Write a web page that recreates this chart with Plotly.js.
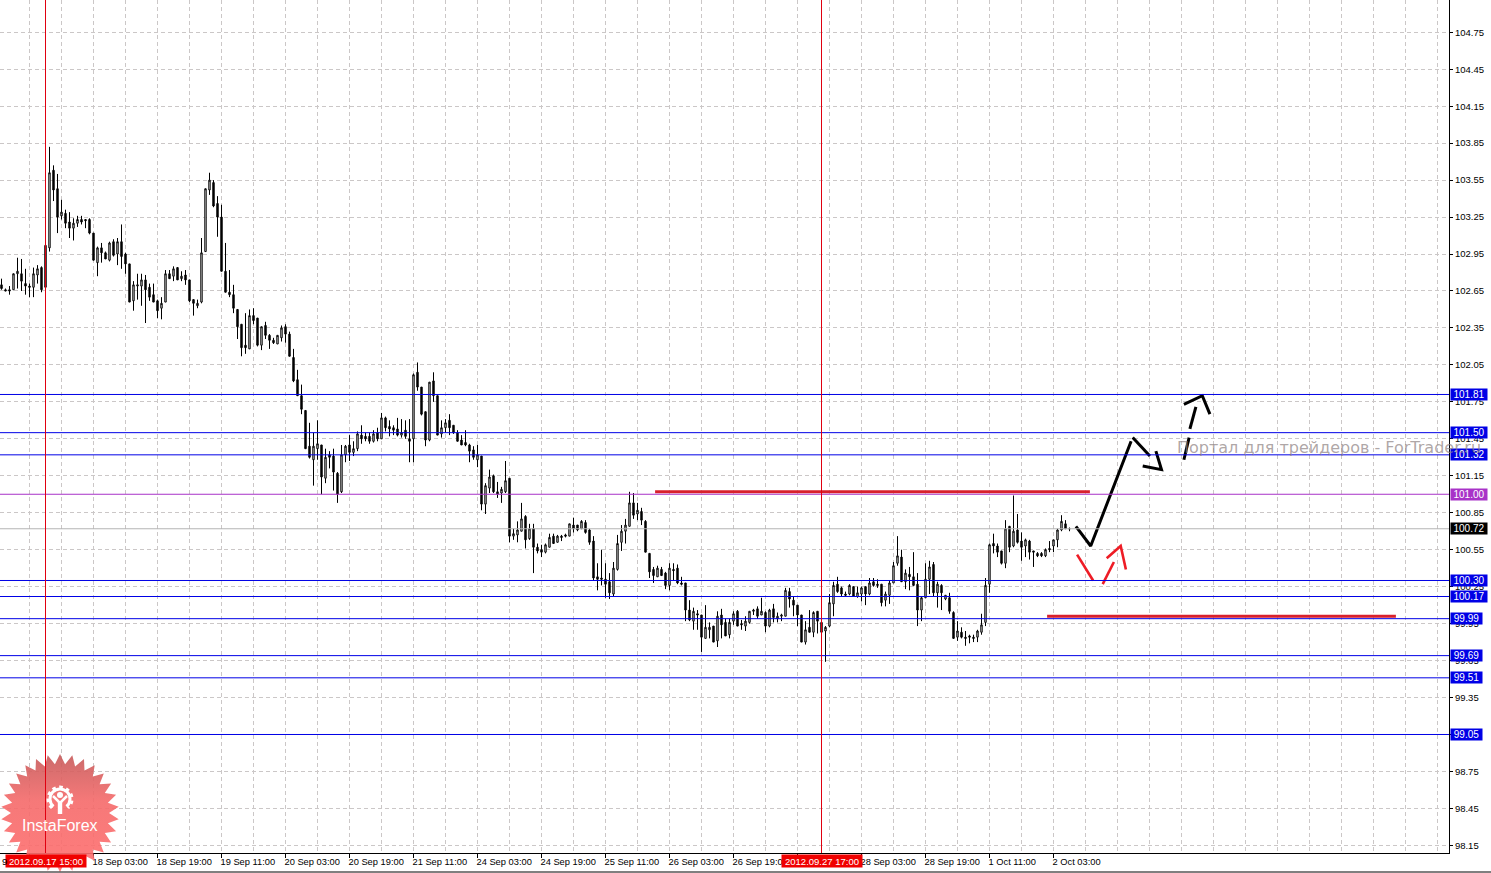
<!DOCTYPE html>
<html>
<head>
<meta charset="utf-8">
<script src="https://cdn.plot.ly/plotly-3.0.1.min.js"></script>
<style>html,body{margin:0;padding:0;background:#fff;overflow:hidden}#c{width:1491px;height:873px}</style>
</head>
<body>
<div id="c"></div>
<script>
const open = [
102.70,102.66,102.66,102.66,102.79,102.79,102.71,102.69,102.68,102.78,
102.84,103.02,103.00,103.63,103.48,103.26,103.28,103.21,103.16,103.20,
103.23,103.23,103.23,103.12,102.88,103.00,102.96,102.90,103.05,102.95,
103.05,102.95,102.87,102.57,102.69,102.69,102.74,102.68,102.62,102.57,
102.51,102.56,102.79,102.77,102.84,102.75,102.78,102.74,102.58,102.53,
102.56,102.97,103.47,103.53,103.36,103.25,102.81,102.64,102.62,102.50,
102.38,102.21,102.18,102.45,102.43,102.21,102.37,102.29,102.25,102.22,
102.27,102.36,102.30,102.11,101.93,101.80,101.68,101.39,101.28,101.37,
101.40,101.13,101.32,101.31,101.17,101.02,101.32,101.40,101.34,101.37,
101.48,101.47,101.47,101.43,101.50,101.45,101.62,101.55,101.54,101.53,
101.48,101.52,101.45,101.45,101.99,101.87,101.67,101.44,101.92,101.80,
101.49,101.54,101.60,101.56,101.50,101.44,101.42,101.40,101.36,101.28,
101.31,100.92,101.05,101.15,101.02,101.01,101.02,101.13,100.66,100.67,
100.70,100.82,100.64,100.72,100.57,100.55,100.53,100.57,100.66,100.61,
100.66,100.67,100.66,100.75,100.75,100.72,100.77,100.71,100.62,100.33,
100.32,100.31,100.29,100.19,100.39,100.61,100.70,100.74,100.93,100.84,
100.86,100.78,100.52,100.39,100.33,100.39,100.36,100.26,100.39,100.40,
100.28,100.28,100.06,99.97,100.03,100.02,99.83,99.90,99.93,99.81,
100.02,99.96,99.86,99.97,100.05,99.95,99.93,99.96,100.05,100.07,
100.02,100.04,99.93,100.07,99.99,100.01,100.01,100.21,100.14,100.10,
100.02,99.80,99.92,99.88,100.05,99.96,99.89,99.93,100.11,100.27,
100.24,100.19,100.19,100.25,100.17,100.19,100.25,100.19,100.29,100.27,
100.27,100.14,100.18,100.28,100.44,100.49,100.29,100.35,100.33,100.27,
100.06,100.16,100.31,100.43,100.20,100.26,100.15,100.16,100.04,99.84,
99.88,99.84,99.85,99.84,99.84,99.88,99.96,100.27,100.60,100.58,
100.54,100.44,100.74,100.58,100.71,100.62,100.58,100.62,100.54,100.52,
100.52,100.50,100.56,100.58,100.63,100.71,100.76,100.72];
const high = [
102.75,102.67,102.69,102.79,102.92,102.91,102.83,102.71,102.84,102.86,
102.85,103.02,103.82,103.67,103.60,103.39,103.31,103.29,103.24,103.26,
103.26,103.23,103.24,103.12,103.01,103.04,102.97,103.05,103.07,103.08,
103.19,102.96,102.87,102.73,102.79,102.79,102.78,102.71,102.71,102.58,
102.60,102.82,102.82,102.85,102.84,102.81,102.82,102.74,102.58,102.58,
103.08,103.48,103.61,103.55,103.42,103.35,103.04,102.82,102.70,102.50,
102.38,102.47,102.50,102.51,102.43,102.36,102.40,102.30,102.27,102.29,
102.37,102.38,102.32,102.18,102.01,101.89,101.68,101.58,101.50,101.60,
101.40,101.37,101.35,101.37,101.18,101.40,101.40,101.48,101.43,101.51,
101.56,101.50,101.50,101.52,101.54,101.66,101.63,101.60,101.56,101.62,
101.61,101.60,101.61,101.98,102.07,101.87,101.67,101.91,101.99,101.80,
101.60,101.61,101.65,101.56,101.52,101.48,101.52,101.41,101.39,101.40,
101.31,101.09,101.20,101.16,101.10,101.06,101.27,101.13,100.72,100.78,
100.93,100.83,100.76,100.76,100.60,100.59,100.60,100.68,100.68,100.67,
100.67,100.68,100.76,100.81,100.75,100.79,100.79,100.72,100.66,100.44,
100.55,100.44,100.36,100.45,100.67,100.75,100.80,101.02,101.01,100.93,
100.89,100.79,100.52,100.41,100.42,100.41,100.37,100.44,100.44,100.43,
100.33,100.28,100.14,100.08,100.06,100.02,100.10,99.96,99.93,100.05,
100.07,99.99,99.99,100.05,100.06,99.98,100.01,100.05,100.07,100.09,
100.16,100.05,100.07,100.11,100.04,100.03,100.24,100.24,100.17,100.10,
100.02,99.97,100.06,100.05,100.05,99.96,99.93,100.19,100.29,100.33,
100.25,100.21,100.27,100.25,100.25,100.25,100.25,100.32,100.32,100.31,
100.27,100.21,100.30,100.45,100.66,100.55,100.39,100.41,100.53,100.36,
100.17,100.44,100.46,100.45,100.29,100.27,100.18,100.20,100.05,99.97,
99.92,99.89,99.86,99.86,99.90,100.03,100.32,100.60,100.68,100.60,
100.54,100.79,100.74,100.99,100.84,100.69,100.64,100.63,100.54,100.53,
100.53,100.56,100.62,100.63,100.72,100.83,100.79,100.73];
const low = [
102.66,102.65,102.62,102.66,102.67,102.65,102.62,102.60,102.60,102.71,
102.64,102.68,102.97,103.38,103.12,103.23,103.16,103.08,103.06,103.17,
103.19,103.16,103.11,102.90,102.77,102.88,102.91,102.89,102.93,102.86,
102.83,102.79,102.56,102.49,102.58,102.53,102.39,102.57,102.56,102.43,
102.42,102.56,102.75,102.73,102.74,102.73,102.70,102.56,102.45,102.51,
102.55,102.97,103.43,103.33,103.09,102.81,102.64,102.60,102.47,102.26,
102.12,102.14,102.18,102.38,102.20,102.17,102.26,102.18,102.22,102.22,
102.24,102.23,102.12,101.91,101.80,101.65,101.37,101.29,101.07,101.28,
101.00,101.09,101.21,101.03,100.93,101.01,101.26,101.27,101.31,101.35,
101.41,101.43,101.41,101.42,101.43,101.45,101.51,101.47,101.48,101.47,
101.46,101.45,101.26,101.26,101.84,101.64,101.39,101.43,101.75,101.48,
101.46,101.50,101.48,101.49,101.43,101.40,101.39,101.26,101.28,101.22,
100.87,100.84,101.01,101.01,100.97,100.93,101.01,100.61,100.63,100.61,
100.70,100.56,100.63,100.36,100.52,100.49,100.52,100.57,100.60,100.61,
100.62,100.65,100.66,100.69,100.70,100.72,100.68,100.59,100.30,100.22,
100.26,100.16,100.15,100.17,100.38,100.54,100.60,100.74,100.80,100.79,
100.75,100.53,100.32,100.28,100.33,100.34,100.23,100.22,100.30,100.27,
100.26,99.97,99.97,99.90,99.90,99.72,99.83,99.83,99.80,99.76,
99.83,99.85,99.83,99.94,99.93,99.90,99.89,99.95,100.02,99.99,
100.02,99.88,99.92,99.96,99.96,99.97,100.01,100.08,100.01,99.93,
99.80,99.78,99.88,99.84,99.87,99.88,99.64,99.92,100.01,100.20,
100.17,100.17,100.18,100.17,100.16,100.13,100.10,100.18,100.25,100.24,
100.09,100.09,100.11,100.28,100.42,100.29,100.23,100.22,100.26,99.93,
99.97,100.16,100.19,100.17,100.08,100.06,100.14,100.03,99.83,99.81,
99.83,99.77,99.79,99.80,99.80,99.86,99.93,100.20,100.52,100.49,
100.43,100.40,100.53,100.57,100.60,100.46,100.49,100.47,100.41,100.49,
100.49,100.49,100.53,100.53,100.57,100.70,100.72,100.70];
const close = [
102.67,102.65,102.65,102.79,102.81,102.73,102.69,102.68,102.79,102.83,
102.66,102.68,103.61,103.47,103.25,103.29,103.20,103.16,103.20,103.23,
103.21,103.22,103.12,102.90,103.00,102.96,102.91,103.04,102.94,103.05,
102.93,102.87,102.56,102.70,102.70,102.74,102.66,102.60,102.56,102.49,
102.55,102.79,102.75,102.83,102.74,102.77,102.74,102.57,102.55,102.55,
102.96,103.48,103.55,103.34,103.25,102.81,102.64,102.62,102.51,102.36,
102.19,102.19,102.45,102.41,102.21,102.36,102.29,102.25,102.23,102.29,
102.35,102.30,102.12,101.92,101.80,101.69,101.37,101.30,101.39,101.41,
101.14,101.30,101.30,101.18,101.00,101.32,101.39,101.34,101.37,101.49,
101.45,101.45,101.43,101.49,101.45,101.62,101.54,101.53,101.52,101.48,
101.50,101.47,101.43,101.97,101.87,101.65,101.44,101.91,101.80,101.48,
101.54,101.58,101.54,101.50,101.43,101.40,101.40,101.35,101.30,101.32,
100.92,101.07,101.14,101.02,101.00,101.04,101.11,100.66,100.68,100.71,
100.80,100.63,100.72,100.57,100.54,100.53,100.59,100.65,100.60,100.66,
100.65,100.66,100.76,100.72,100.71,100.78,100.69,100.61,100.32,100.31,
100.31,100.27,100.20,100.40,100.60,100.70,100.75,100.93,100.83,100.87,
100.79,100.53,100.37,100.34,100.40,100.34,100.26,100.40,100.38,100.28,
100.27,100.06,99.98,100.05,100.02,99.84,99.92,99.92,99.80,100.01,
99.94,99.85,99.96,100.03,99.93,99.94,99.97,100.05,100.06,100.01,
100.05,99.93,100.06,100.00,100.01,100.02,100.22,100.15,100.10,100.02,
99.80,99.90,99.88,100.04,99.97,99.88,99.92,100.12,100.26,100.21,
100.19,100.18,100.26,100.17,100.20,100.24,100.19,100.28,100.26,100.26,
100.12,100.19,100.28,100.42,100.50,100.29,100.36,100.33,100.26,100.06,
100.16,100.31,100.41,100.20,100.27,100.20,100.18,100.05,99.83,99.89,
99.84,99.83,99.84,99.83,99.89,99.94,100.26,100.59,100.58,100.53,
100.44,100.72,100.57,100.70,100.61,100.57,100.63,100.53,100.53,100.50,
100.50,100.55,100.55,100.63,100.71,100.78,100.72,100.72];

const barIndex = open.map((_, i) => i);

const priceTicks = [98.15,98.45,98.75,99.05,99.35,99.65,99.95,100.25,100.55,100.85,101.15,101.45,101.75,102.05,102.35,102.65,102.95,103.25,103.55,103.85,104.15,104.45,104.75];
const timeTickBars = [7,23,39,55,71,87,103,119,135,151,167,183,199,215,231,247,263];
const timeTickLabels = ['17 Sep 11:00','18 Sep 03:00','18 Sep 19:00','19 Sep 11:00','20 Sep 03:00','20 Sep 19:00','21 Sep 11:00','24 Sep 03:00','24 Sep 19:00','25 Sep 11:00','26 Sep 03:00','26 Sep 19:00','27 Sep 11:00','28 Sep 03:00','28 Sep 19:00','1 Oct 11:00','2 Oct 03:00'];

const blueLevels = [101.81,101.50,101.32,100.30,100.17,99.99,99.69,99.51,99.05];
const purpleLevel = 101.00;
const bidLevel = 100.72;
const crossBars = [11,205];
const crossLabels = ['2012.09.17 15:00','2012.09.27 17:00'];

const blackPathBars = [268.6,272.3,282.4,null,282.8,287.1,null,288.6,290.0,285.3,null,296.9,295.6,null,298.6,297.1,null,295.6,300.2,302.1];
const blackPathPrices = [100.74,100.58,101.43,null,101.46,101.31,null,101.35,101.20,101.23,null,101.46,101.28,null,101.71,101.53,null,101.73,101.80,101.65];
const redPathBars = [268.9,272.9,null,278.1,275.3,null,276.3,279.8,281.1];
const redPathPrices = [100.51,100.30,null,100.45,100.27,null,100.48,100.58,100.39];
const resistBars = [163.4,272.1];
const resistPrices = [101.02,101.02];
const supportBars = [261.4,348.6];
const supportPrices = [100.01,100.01];

const W = 1491, H = 873, PW = 1449, PH = 853;
const px = v => v / PW;
const py = v => (PH - v) / PH;
const GRID = '#cbc7c7';
const DASH = '4px,3px';
const FONT = 'Liberation Sans, Arial, sans-serif';

const traces = [
  {type:'candlestick', x:barIndex, open, high, low, close, whiskerwidth:0,
   increasing:{line:{color:'#000',width:1}, fillcolor:'#fff'},
   decreasing:{line:{color:'#000',width:1}, fillcolor:'#000'},
   hoverinfo:'skip', showlegend:false},
  {type:'scatter', mode:'lines', x:resistBars, y:resistPrices, line:{color:'#d8202c',width:3}, hoverinfo:'skip', showlegend:false},
  {type:'scatter', mode:'lines', x:supportBars, y:supportPrices, line:{color:'#d8202c',width:3}, hoverinfo:'skip', showlegend:false},
  {type:'scatter', mode:'lines', x:blackPathBars, y:blackPathPrices, connectgaps:false, line:{color:'#000',width:3}, hoverinfo:'skip', showlegend:false},
  {type:'scatter', mode:'lines', x:redPathBars, y:redPathPrices, connectgaps:false, line:{color:'#ee1c25',width:2.6}, hoverinfo:'skip', showlegend:false}
];

const hline = (p, color) => ({type:'line', xref:'paper', x0:0, x1:1, yref:'y', y0:p, y1:p, layer:'above', line:{color, width:1}});
const shapes = [
  hline(bidLevel, '#b4b4b4'),
  hline(purpleLevel, '#a832c8'),
  ...blueLevels.map(p => hline(p, '#0000e6')),
  ...crossBars.map(b => ({type:'line', xref:'x', x0:b, x1:b, yref:'paper', y0:0, y1:1, layer:'above', line:{color:'#e00010', width:1}})),
  {type:'line', xref:'paper', x0:0, x1:W/PW, yref:'paper', y0:py(872), y1:py(872), line:{color:'#000', width:1}}
];

const levelLabel = (p, bg) => ({xref:'paper', x:px(1450), xanchor:'left', yref:'y', y:p, yanchor:'middle', text:p.toFixed(2),
  width:p >= 100 ? 36 : 31, height:11, align:'center', showarrow:false, bgcolor:bg, borderpad:0,
  font:{family:FONT, size:10, color:'#fff'}});

const annotations = [
  ...blueLevels.map(p => levelLabel(p, '#0000e6')),
  levelLabel(purpleLevel, '#a832c8'),
  levelLabel(bidLevel, '#000'),
  ...crossBars.map((b, k) => ({xref:'x', x:b, xanchor:'center', yref:'paper', y:py(861), yanchor:'middle', text:crossLabels[k],
    width:80, height:12, align:'center', showarrow:false, bgcolor:'#f00000', borderpad:0, font:{family:FONT, size:9.5, color:'#fff'}})),
  {xref:'paper', x:px(0), xanchor:'left', yref:'paper', y:py(861), yanchor:'middle', text:'9', showarrow:false, font:{family:FONT, size:9.5, color:'#000'}},
  {xref:'paper', x:px(60), xanchor:'center', yref:'paper', y:py(825), yanchor:'middle', text:'InstaForex', showarrow:false, font:{family:FONT, size:16, color:'#fff'}},
  {xref:'paper', x:px(1175), xanchor:'left', yref:'paper', y:py(447), yanchor:'middle', text:'Портал для трейдеров - ForTrader.ru',
   showarrow:false, font:{family:'DejaVu Sans, sans-serif', size:16, color:'rgba(140,128,128,0.7)'}}
];

// badge artwork (decoration only, its caption is the annotation above)
const points = [];
for (let k = 0; k < 60; k++) {
  const r = k % 2 ? 49 : 59, a = Math.PI * k / 30 - Math.PI / 2;
  points.push((60 + r * Math.cos(a)).toFixed(1) + ',' + (60 + r * Math.sin(a)).toFixed(1));
}
const svg = `<svg xmlns="http://www.w3.org/2000/svg" width="120" height="120" viewBox="0 0 120 120">
<defs><linearGradient id="g" x1="0" y1="0" x2="0" y2="1"><stop offset="0" stop-color="#c65a5a"/><stop offset="0.4" stop-color="#f56a6a"/><stop offset="1" stop-color="#ff6e6e"/></linearGradient></defs>
<polygon points="${points.join(' ')}" fill="url(#g)" fill-opacity="0.9"/>
<path d="M53.5 53.5 A10 10 0 1 1 66.5 53.5" fill="none" stroke="#fff" stroke-width="3"/>
<path d="M52 55 A12 12 0 1 1 68 55" fill="none" stroke="#fff" stroke-width="3" stroke-dasharray="3.5 3.5"/>
<path d="M53 43 L60 50 L67 43" fill="none" stroke="#fff" stroke-width="2.5"/>
<rect x="57.8" y="48" width="4.4" height="13" fill="#fff"/><circle cx="60" cy="42" r="3" fill="#fff"/></svg>`;

const layout = {
  width:W, height:H, margin:{l:0, r:W-PW, t:0, b:H-PH, pad:0},
  paper_bgcolor:'#fff', plot_bgcolor:'#fff', showlegend:false, boxgap:0.5,
  font:{family:FONT, size:9.3, color:'#000'},
  xaxis:{type:'linear', range:[-0.375,361.875], tickmode:'array', tickvals:timeTickBars, ticktext:timeTickLabels,
    ticks:'outside', ticklen:4, tickcolor:'#000', tickwidth:1, ticklabelposition:'outside right', ticklabelshift:-2,
    showgrid:true, gridcolor:GRID, griddash:DASH, gridwidth:1, zeroline:false,
    showline:true, linecolor:'#000', linewidth:1, rangeslider:{visible:false}, tickangle:0,
    minor:{tickmode:'linear', tick0:-1, dtick:8, showgrid:true, gridcolor:GRID, griddash:DASH, gridwidth:1, ticks:''},
    tickfont:{family:FONT, size:9.3, color:'#000'}},
  yaxis:{side:'right', range:[98.088,105.012], tickmode:'array', tickvals:priceTicks, ticktext:priceTicks.map(v => v.toFixed(2)),
    ticks:'outside', ticklen:3, tickcolor:'#000', tickwidth:1, ticklabelstandoff:0,
    showgrid:true, gridcolor:GRID, griddash:DASH, gridwidth:1, zeroline:false,
    showline:true, linecolor:'#000', linewidth:1,
    tickfont:{family:FONT, size:9.5, color:'#000'}},
  shapes, annotations,
  images:[{source:'data:image/svg+xml;charset=utf-8,' + encodeURIComponent(svg), xref:'paper', yref:'paper',
    x:px(0), y:py(753), sizex:120/PW, sizey:120/PH, xanchor:'left', yanchor:'top', sizing:'stretch', layer:'above'}]
};

Plotly.newPlot('c', traces, layout, {staticPlot:true, displayModeBar:false});
</script>
</body>
</html>
